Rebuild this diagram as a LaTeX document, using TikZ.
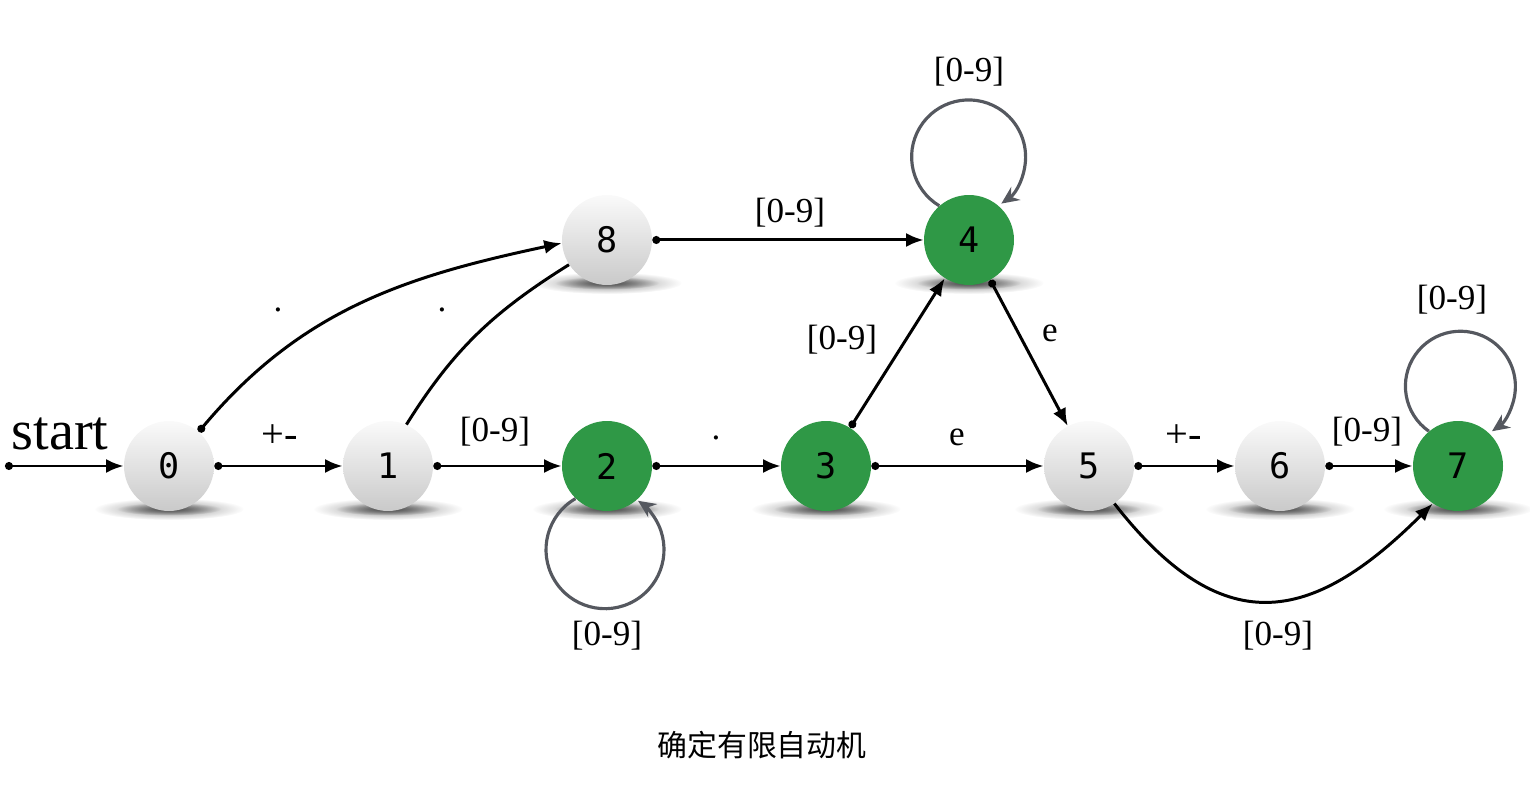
\documentclass[tikz,border=0pt]{standalone}
\usepackage{fontspec}
\newfontfamily\monof{DejaVu Sans Mono}
\newfontfamily\cjk{Noto Sans CJK SC}
\newfontfamily\lblfont{Liberation Serif}
\usetikzlibrary{arrows.meta,backgrounds,fadings}
\definecolor{accgreen}{RGB}{47,152,70}
\definecolor{loopgray}{RGB}{85,88,95}
\tikzfading[name=shadowfade, inner color=transparent!0, outer color=transparent!100]
\tikzset{
  state/.style={circle, minimum size=1.8cm, inner sep=0pt, font=\monof\fontsize{20}{24}\selectfont},
  grayst/.style={state, top color=gray!4, bottom color=gray!42},
  greenst/.style={state, fill=accgreen},
  edgeline/.style={line width=1.7pt, draw=black},
  edge/.style={edgeline, -{Latex[length=10pt,width=8pt]}},
  dotedge/.style={edgeline, {Circle[length=4.5pt]}-{Latex[length=10pt,width=8pt]}},
  loopst/.style={line width=1.8pt, draw=loopgray, -{Stealth[length=10pt,width=9pt]}},
  lbl/.style={font=\lblfont\fontsize{20}{24}\selectfont, inner sep=0pt},
}
\begin{document}
\begin{tikzpicture}[x=0.02cm, y=0.02cm]
\useasboundingbox (0,0) rectangle (1530,794);
% states
\node[grayst]  (n0) at (169,328) {0};
\node[grayst]  (n1) at (388,328) {1};
\node[greenst] (n2) at (607,328) {2};
\node[greenst] (n3) at (826,328) {3};
\node[greenst] (n4) at (969,554) {4};
\node[grayst]  (n5) at (1089,328) {5};
\node[grayst]  (n6) at (1280,328) {6};
\node[greenst] (n7) at (1458,328) {7};
\node[grayst]  (n8) at (607,554) {8};
% shadows
\begin{scope}[on background layer]
\foreach \n in {n0,n1,n2,n3,n4,n5,n6,n7,n8}{
  \fill[black!45, path fading=shadowfade] ([yshift=-0.86cm]\n.center) ellipse[x radius=1.5cm, y radius=0.22cm];
  \fill[black!70, path fading=shadowfade] ([yshift=-0.86cm]\n.center) ellipse[x radius=1.05cm, y radius=0.13cm];
}
\end{scope}
% start
\coordinate (sp) at (5,328);
\node[font=\lblfont\fontsize{32}{36}\selectfont, inner sep=0pt] (startlbl) at (60,360) {start};
\draw[dotedge] (sp) -- (n0);
% edges
\draw[dotedge] (n0) -- (n1);
\draw[dotedge] (n0.49) to[out=50,in=192] (n8.184);
\draw[edgeline] (n1.66) to[out=58,in=212] (n8.213);
\draw[dotedge] (n1) -- (n2);
\draw[dotedge] (n2) -- (n3);
\draw[dotedge] (n3) -- (n5);
\draw[dotedge] (n3) -- (n4);
\draw[dotedge] (n8) -- (n4);
\draw[dotedge] (n4) -- (n5);
\draw[dotedge] (n5) -- (n6);
\draw[dotedge] (n6) -- (n7);
\draw[edge] (n5.-56) to[out=-52,in=225,looseness=1.4] (n7.236);
% loops
\draw[loopst] (n2.226) arc[start angle=120, end angle=416, radius=1.18cm];
\draw[loopst] (n4.131) arc[start angle=239, end angle=-55, radius=1.14cm];
\draw[loopst] (n7.130) arc[start angle=235, end angle=-55, radius=1.1cm];
% labels
\node[lbl, font=\lblfont\fontsize{23}{26}\selectfont] (l01) at (280,358) {+-};
\node[lbl] (l08) at (278,484) {.};
\node[lbl] (l18) at (442,484) {.};
\node[lbl] (l12) at (495,362) {[0-9]};
\node[lbl] (l23) at (716,356) {.};
\node[lbl] (l22) at (607,158) {[0-9]};
\node[lbl] (l35) at (957,357) {e};
\node[lbl] (l34) at (842,454) {[0-9]};
\node[lbl] (l84) at (790,581) {[0-9]};
\node[lbl] (l44) at (969,722) {[0-9]};
\node[lbl] (l45) at (1050,461) {e};
\node[lbl, font=\lblfont\fontsize{23}{26}\selectfont] (l56) at (1184,358) {+-};
\node[lbl] (l67) at (1367,362) {[0-9]};
\node[lbl] (l77) at (1452,494) {[0-9]};
\node[lbl] (l57) at (1278,158) {[0-9]};
\node[font=\cjk\fontsize{17}{20}\selectfont, inner sep=0pt] (cap) at (762,49) {确定有限自动机};
\end{tikzpicture}
\end{document}
